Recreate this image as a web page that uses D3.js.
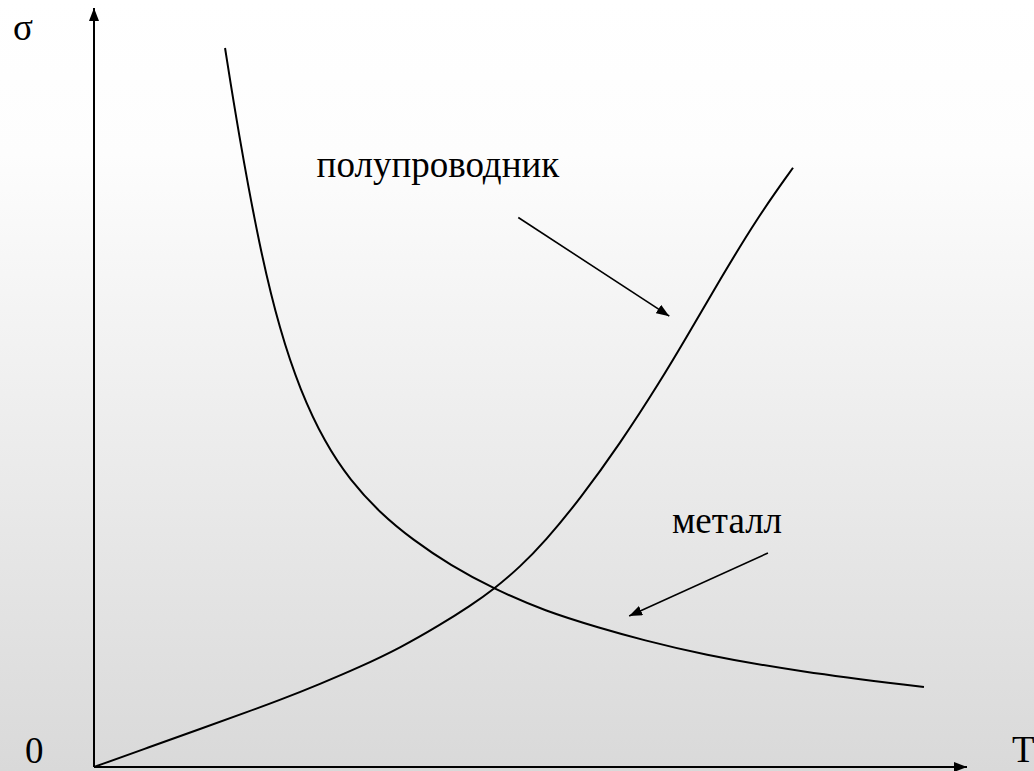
<!DOCTYPE html>
<html>
<head>
<meta charset="utf-8">
<script src="https://cdn.jsdelivr.net/npm/d3@7"></script>
<style>
  html, body { margin: 0; padding: 0; }
  svg { display: block; }
  text { font-family: "Liberation Serif", "Times New Roman", "DejaVu Serif", serif; }
</style>
</head>
<body>
<script>
// ---- data (T, σ in arbitrary units 0..100) ----
const metalT     = [15.01, 16.49, 19.01, 21.31, 23.60, 26.46, 29.32, 32.76, 36.54, 40.78, 45.82, 51.66, 57.96, 62.89, 69.42, 80.87, 95.07];
const metalSigma = [94.73, 83.93, 68.12, 57.44, 49.67, 42.69, 37.81, 33.47, 29.91, 26.61, 23.45, 20.55, 18.31, 16.73, 14.89, 12.52, 10.54];
const semiT      = [0, 6.41, 12.14, 17.87, 21.31, 25.89, 30.47, 35.05, 39.63, 43.07, 45.82, 48.80, 51.66, 55.67, 60.25, 64.83, 67.93, 71.71, 75.95, 80.07];
const semiSigma  = [0, 2.64, 5.01, 7.38, 8.83, 10.94, 13.18, 15.68, 18.71, 21.21, 23.45, 26.36, 29.72, 35.31, 42.58, 50.75, 56.73, 64.22, 72.31, 78.95];
const labels     = ["полупроводник", "металл"];
const labelT     = [25.5, 66.2];
const labelSigma = [77.7, 30.8];
const pointerFromT     = [48.6, 77.2];
const pointerFromSigma = [72.4, 28.2];
const pointerToT       = [65.9, 61.3];
const pointerToSigma   = [59.4, 19.9];
const axisTitles = ["σ", "T", "0"];

const W = 1034, H = 771;
const x = d3.scaleLinear().domain([0, 100]).range([94, 967]);
const y = d3.scaleLinear().domain([0, 100]).range([767, 8]);

const svg = d3.select("body").append("svg").attr("width", W).attr("height", H);
const defs = svg.append("defs");
const grad = defs.append("linearGradient").attr("id", "bg").attr("x1", 0).attr("y1", 0).attr("x2", 0).attr("y2", 1);
grad.append("stop").attr("offset", "0%").attr("stop-color", "#ffffff");
grad.append("stop").attr("offset", "20%").attr("stop-color", "#fdfdfd");
grad.append("stop").attr("offset", "100%").attr("stop-color", "#d9d9d9");
svg.append("rect").attr("width", W).attr("height", H).attr("fill", "url(#bg)");

function marker(id, len, hw) {
  defs.append("marker").attr("id", id)
    .attr("viewBox", `0 ${-hw} ${len} ${2*hw}`)
    .attr("refX", len).attr("refY", 0)
    .attr("markerWidth", len).attr("markerHeight", 2*hw)
    .attr("markerUnits", "userSpaceOnUse")
    .attr("orient", "auto")
    .append("path").attr("d", `M0,${-hw}L${len},0L0,${hw}Z`).attr("fill", "#000");
}
marker("axisArrow", 13, 5);
marker("ptrArrow", 13, 5);

// axes
svg.append("line").attr("x1", x(0)).attr("y1", y(0)).attr("x2", x(0)).attr("y2", y(100))
  .attr("stroke", "#000").attr("stroke-width", 2).attr("marker-end", "url(#axisArrow)");
svg.append("line").attr("x1", x(0)).attr("y1", y(0)).attr("x2", x(100)).attr("y2", y(0))
  .attr("stroke", "#000").attr("stroke-width", 2).attr("marker-end", "url(#axisArrow)");

svg.append("text").attr("x", 13).attr("y", 40).text(axisTitles[0])
  .attr("font-size", 37).attr("fill", "#000");
svg.append("text").attr("x", 1012).attr("y", 762).text(axisTitles[1])
  .attr("font-size", 37).attr("fill", "#000");
svg.append("text").attr("x", 25).attr("y", 763).text(axisTitles[2])
  .attr("font-size", 37).attr("fill", "#000");

// curves
const line = d3.line().x(d => x(d[0])).y(d => y(d[1])).curve(d3.curveBasis);
const metal = metalT.map((t, i) => [t, metalSigma[i]]);
const semi = semiT.map((t, i) => [t, semiSigma[i]]);
svg.append("path").attr("d", line(metal)).attr("fill", "none").attr("stroke", "#000").attr("stroke-width", 2);
svg.append("path").attr("d", line(semi)).attr("fill", "none").attr("stroke", "#000").attr("stroke-width", 2);

// pointers
labels.forEach((lab, i) => {
  svg.append("line")
    .attr("x1", x(pointerFromT[i])).attr("y1", y(pointerFromSigma[i]))
    .attr("x2", x(pointerToT[i])).attr("y2", y(pointerToSigma[i]))
    .attr("stroke", "#000").attr("stroke-width", 1.6).attr("marker-end", "url(#ptrArrow)");
  svg.append("text").attr("x", x(labelT[i])).attr("y", y(labelSigma[i])).text(lab)
    .attr("font-size", 37).attr("fill", "#000");
});
</script>
</body>
</html>
